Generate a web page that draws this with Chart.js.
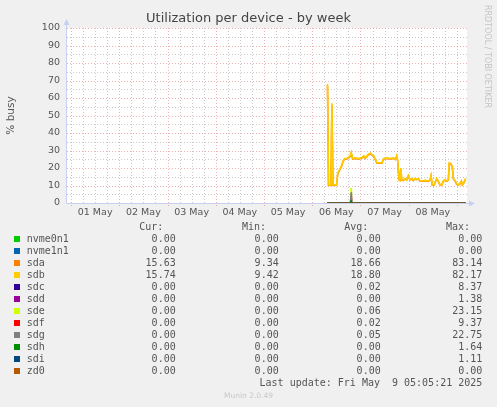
<!DOCTYPE html>
<html>
<head>
<meta charset="utf-8">
<script src="https://cdn.jsdelivr.net/npm/chart.js@4"></script>
<style>
  body { margin: 0; background: #f0f0f0; }
  #wrap { position: relative; width: 497px; height: 407px; background: #f0f0f0; overflow: hidden; }
  #title { position: absolute; left: 0; width: 497px; top: 10px; text-align: center;
           font: 13px "DejaVu Sans"; color: #444; }
  #rrd { position: absolute; left: 483px; top: 5px; font: 8px "DejaVu Sans"; color: #c4c4c4;
         writing-mode: vertical-rl; white-space: nowrap; }
  .lg { position: absolute; font: 10px "DejaVu Sans Mono"; color: #555; line-height: 12px; white-space: pre; }
  .sw { position: absolute; width: 6px; height: 6px; }
  #munin { position: absolute; left: 0; width: 497px; top: 391px; text-align: center;
           font: 7.5px "DejaVu Sans"; color: #c8c8c8; }
</style>
</head>
<body>
<div id="wrap">
  <canvas id="chart" width="497" height="407"></canvas>
  <div id="title">Utilization per device - by week</div>
  <div id="rrd">RRDTOOL / TOBI OETIKER</div>
  <div id="munin">Munin 2.0.49</div>
</div>
<script>
// Munin diskstats utilization, weekly view
// x values are hours counted from 01 May 00:00

const dayLabels = ['01 May', '02 May', '03 May', '04 May', '05 May', '06 May', '07 May', '08 May'];

// sda / sdb samples (they overlap almost everywhere)
const busyTimes = [127.6, 128.1, 129.3, 129.8, 130.3, 132.1, 132.7, 133.5, 134.5, 135.3,
  136.1, 137.3, 138.9, 139.4, 140.1, 141.4, 143.1, 144.7, 145.6, 146.4,
  147.7, 148.9, 149.7, 150.6, 151.4, 152.2, 153.9, 154.7, 155.5, 157.2,
  158.8, 160.5, 161.3, 162.0, 162.5, 163.2, 163.6, 164.1, 164.5, 165.3,
  166.1, 167.0, 167.8, 168.6, 169.5, 170.3, 171.1, 172.0, 172.8, 173.6,
  174.4, 176.1, 177.7, 178.6, 179.1, 179.7, 180.7, 181.4, 181.9, 182.7,
  183.5, 184.4, 185.2, 186.0, 186.9, 187.7, 188.2, 189.0, 189.7, 190.2,
  191.0, 191.8, 192.6, 193.4, 194.2, 194.7, 195.6, 196.3];
const sdbBusy = [68, 10.3, 10.3, 57, 10.3, 10.3, 17, 19, 21, 24,
  25.4, 25.4, 27, 29, 25.4, 25.8, 25.4, 26, 27, 25.8,
  27.6, 28.6, 27.6, 27, 25, 23, 23, 23, 25.4, 25.8,
  25.4, 25.8, 25, 27, 24.5, 13.3, 13, 20, 13.3, 13,
  14, 13.3, 15.7, 13.3, 14, 13, 14, 13.5, 14, 12.6,
  12.6, 13, 12.6, 13.3, 15.7, 10.3, 10.6, 12.6, 14, 12.6,
  10.6, 10.3, 12.6, 13.3, 12.6, 13.3, 23, 22.5, 21, 14,
  13, 11, 10.5, 11, 12.6, 10.5, 12, 14];
const sdaBusy = [67, 10.1, 10.2, 56, 10.1, 10.2, 16.6, 18.7, 20.6, 23.7,
  25.1, 25.2, 26.6, 28.4, 25.1, 25.5, 25.1, 25.7, 26.6, 25.5,
  27.3, 28.2, 27.3, 26.7, 24.8, 22.7, 22.8, 22.8, 25.1, 25.5,
  25.2, 25.5, 24.8, 26.6, 24.2, 13.1, 12.8, 19.6, 13.1, 12.8,
  13.8, 13.1, 15.4, 13.1, 13.8, 12.8, 13.8, 13.3, 13.8, 12.4,
  12.4, 12.8, 12.4, 13.1, 15.4, 10.1, 10.4, 12.4, 13.8, 12.4,
  10.4, 10.1, 12.4, 13.1, 12.4, 13.1, 22.6, 22.1, 20.7, 13.8,
  12.8, 10.8, 10.3, 10.8, 12.4, 10.3, 11.8, 13.8];

// the other devices are idle except one short blip on 06 May
const idleTimes = [127.6, 138.9, 139.3, 139.6, 196.3];
const sdcBusy = [0, 0, 3, 0, 0];
const sddBusy = [0, 0, 0.5, 0, 0];
const sdeBusy = [0, 0, 8.6, 0, 0];
const sdfBusy = [0, 0, 4, 0, 0];
const sdgBusy = [0, 0, 6, 0, 0];
const sdhBusy = [0, 0, 1.5, 0, 0];
const sdiBusy = [0, 0, 0.5, 0, 0];
const flatBusy = [0, 0, 0, 0, 0];

const devNames = ['nvme0n1', 'nvme1n1', 'sda', 'sdb', 'sdc', 'sdd', 'sde', 'sdf', 'sdg', 'sdh', 'sdi', 'zd0'];
const devColors = ['#00cc00', '#0066b3', '#ff8000', '#ffcc00', '#330099', '#990099',
  '#ccff00', '#ff0000', '#808080', '#008f00', '#00487d', '#b35a00'];
const curVals = ['0.00', '0.00', '15.63', '15.74', '0.00', '0.00', '0.00', '0.00', '0.00', '0.00', '0.00', '0.00'];
const minVals = ['0.00', '0.00', '9.34', '9.42', '0.00', '0.00', '0.00', '0.00', '0.00', '0.00', '0.00', '0.00'];
const avgVals = ['0.00', '0.00', '18.66', '18.80', '0.02', '0.00', '0.06', '0.02', '0.05', '0.00', '0.00', '0.00'];
const maxVals = ['0.00', '0.00', '83.14', '82.17', '8.37', '1.38', '23.15', '9.37', '22.75', '1.64', '1.11', '0.00'];

const seriesValues = [flatBusy, flatBusy, sdaBusy, sdbBusy, sdcBusy, sddBusy,
  sdeBusy, sdfBusy, sdgBusy, sdhBusy, sdiBusy, flatBusy];

function toPoints(times, vals) {
  return vals.map((v, i) => ({ x: times[i], y: v }));
}

// rrdtool paints in definition order, so later devices end up on top
const datasets = devNames.map((name, i) => {
  const busy = (name === 'sda' || name === 'sdb');
  return {
    label: name,
    data: toPoints(busy ? busyTimes : idleTimes, seriesValues[i]),
    borderColor: devColors[i],
    borderWidth: busy ? 1.6 : 1,
    pointRadius: 0,
    tension: 0,
    fill: false,
    order: devNames.length - i
  };
});

// dotted rrdtool-style grid plus the two arrowed axes
const munGrid = {
  id: 'munGrid',
  beforeDatasetsDraw(chart) {
    const { ctx, chartArea: a, scales: { x, y } } = chart;
    ctx.save();
    ctx.fillStyle = '#ffffff';
    ctx.fillRect(a.left, a.top, a.right - a.left, a.bottom - a.top);
    ctx.lineWidth = 1;
    ctx.setLineDash([1, 2]);
    // minor
    ctx.strokeStyle = 'rgba(150,150,150,0.5)';
    for (let v = 5; v < 100; v += 10) {
      const py = Math.round(y.getPixelForValue(v)) + 0.5;
      ctx.beginPath(); ctx.moveTo(a.left, py); ctx.lineTo(a.right, py); ctx.stroke();
    }
    for (let h = 6; h < 197; h += 6) {
      if (h % 24 === 0) continue;
      const px = Math.round(x.getPixelForValue(h)) + 0.5;
      ctx.beginPath(); ctx.moveTo(px, a.top); ctx.lineTo(px, a.bottom); ctx.stroke();
    }
    // major
    ctx.strokeStyle = 'rgba(225,100,100,0.5)';
    for (let v = 10; v <= 100; v += 10) {
      const py = Math.round(y.getPixelForValue(v)) + 0.5;
      ctx.beginPath(); ctx.moveTo(a.left, py); ctx.lineTo(a.right, py); ctx.stroke();
    }
    for (let h = 0; h < 197; h += 24) {
      const px = Math.round(x.getPixelForValue(h)) + 0.5;
      ctx.beginPath(); ctx.moveTo(px, a.top); ctx.lineTo(px, a.bottom + 3); ctx.stroke();
    }
    ctx.setLineDash([]);
    // axes
    ctx.strokeStyle = '#c8cff0';
    ctx.fillStyle = '#c8cff0';
    const bx = Math.round(a.left) - 0.5, by = Math.round(a.bottom) + 0.5;
    ctx.beginPath(); ctx.moveTo(bx, by); ctx.lineTo(bx, a.top - 4); ctx.stroke();
    ctx.beginPath(); ctx.moveTo(bx, by); ctx.lineTo(a.right + 2, by); ctx.stroke();
    ctx.beginPath();
    ctx.moveTo(bx - 3, a.top - 3); ctx.lineTo(bx + 3, a.top - 3); ctx.lineTo(bx, a.top - 9); ctx.closePath(); ctx.fill();
    ctx.beginPath();
    ctx.moveTo(a.right + 2, by - 3); ctx.lineTo(a.right + 2, by + 3); ctx.lineTo(a.right + 8, by); ctx.closePath(); ctx.fill();
    ctx.restore();
  }
};

new Chart(document.getElementById('chart'), {
  type: 'line',
  data: { datasets },
  options: {
    responsive: false,
    animation: false,
    devicePixelRatio: 1,
    layout: { padding: { left: 0, top: 28, right: 30, bottom: 184 } },
    plugins: { legend: { display: false }, tooltip: { enabled: false } },
    scales: {
      x: {
        type: 'linear',
        min: -2,
        max: 197,
        afterFit(s) { s.height = 20; },
        afterBuildTicks(s) { s.ticks = dayLabels.map((d, i) => ({ value: 12 + 24 * i })); },
        ticks: {
          autoSkip: false,
          maxRotation: 0,
          padding: 4,
          color: '#555',
          font: { family: 'DejaVu Sans', size: 9.5 },
          callback: (v) => dayLabels[Math.round((v - 12) / 24)]
        },
        grid: { display: false, drawTicks: false },
        border: { display: false }
      },
      y: {
        min: 0,
        max: 100,
        afterFit(s) { s.width = 67; },
        ticks: {
          stepSize: 10,
          padding: 7,
          color: '#555',
          font: { family: 'DejaVu Sans', size: 9.5 }
        },
        title: {
          display: true,
          text: '% busy',
          color: '#555',
          padding: { top: 5, bottom: 0 },
          font: { family: 'DejaVu Sans', size: 10.5 }
        },
        grid: { display: false, drawTicks: false },
        border: { display: false }
      }
    }
  },
  plugins: [munGrid]
});

// legend table under the graph
const wrap = document.getElementById('wrap');
function addText(txt, right, top) {
  const d = document.createElement('div');
  d.className = 'lg';
  d.textContent = txt;
  d.style.right = (497 - right) + 'px';
  d.style.top = top + 'px';
  wrap.appendChild(d);
}
const colRight = [175.7, 278.7, 380.7, 482.3];
const headRight = [163.3, 266, 368.3, 470];
['Cur:', 'Min:', 'Avg:', 'Max:'].forEach((h, i) => addText(h, headRight[i], 221.3));
devNames.forEach((name, i) => {
  const top = 233.3 + 12 * i;
  const sw = document.createElement('div');
  sw.className = 'sw';
  sw.style.left = '14px';
  sw.style.top = (top + 3) + 'px';
  sw.style.background = devColors[i];
  wrap.appendChild(sw);
  const lbl = document.createElement('div');
  lbl.className = 'lg';
  lbl.textContent = name;
  lbl.style.left = '26.7px';
  lbl.style.top = top + 'px';
  wrap.appendChild(lbl);
  [curVals, minVals, avgVals, maxVals].forEach((col, c) => addText(col[i], colRight[c], top));
});
addText('Last update: Fri May  9 05:05:21 2025', 482.3, 377.3);
</script>
</body>
</html>
